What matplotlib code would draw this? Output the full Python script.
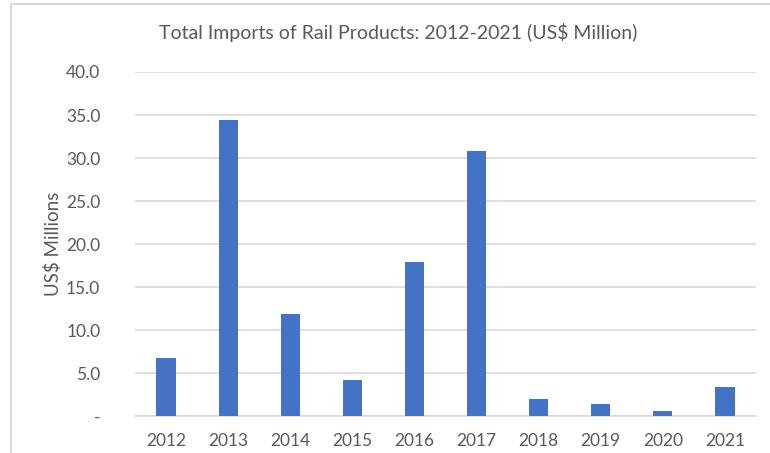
import matplotlib.pyplot as plt
from matplotlib.patches import Rectangle

years = ['2012', '2013', '2014', '2015', '2016', '2017', '2018', '2019', '2020', '2021']
imports = [6.8, 34.4, 11.9, 4.2, 17.9, 30.8, 2.0, 1.4, 0.6, 3.4]
y_ticks = [0, 5, 10, 15, 20, 25, 30, 35, 40]
y_tick_labels = ['-', '5.0', '10.0', '15.0', '20.0', '25.0', '30.0', '35.0', '40.0']

plt.rcParams['font.family'] = ['Lato', 'DejaVu Sans']
text_color = '#595959'
grid_color = '#d9d9d9'

fig = plt.figure(figsize=(7.7, 4.53), dpi=100)
ax = fig.add_axes([135/770, 1 - 416.3/453, (756 - 135)/770, (416.3 - 72)/453])

x = range(len(years))
ax.bar(x, imports, width=0.31, color='#4472c4', zorder=3)

ax.set_xlim(-0.5, len(years) - 0.5)
ax.set_ylim(0, 40)
ax.set_yticks(y_ticks)
ax.set_yticklabels(y_tick_labels)
ax.set_xticks(list(x))
ax.set_xticklabels(years)
ax.tick_params(axis='both', length=0, labelsize=12.5, colors=text_color)
ax.tick_params(axis='y', pad=25)
ax.tick_params(axis='x', pad=12)
ax.grid(axis='y', color=grid_color, linewidth=1.2, zorder=0)
for side in ['top', 'right', 'left']:
    ax.spines[side].set_visible(False)
ax.spines['bottom'].set_color(grid_color)
ax.spines['bottom'].set_linewidth(1.2)

ax.set_ylabel('US$ Millions', fontsize=13.5, color=text_color, labelpad=3)
fig.text(398/770, 1 - 33/453, 'Total Imports of Rail Products: 2012-2021 (US$ Million)',
         ha='center', va='center', fontsize=14, color=text_color)

# chart frame
fig.patches.append(Rectangle((11/770, -0.1), 1.2, 1 - 4/453 + 0.1, transform=fig.transFigure,
                             fill=False, edgecolor=grid_color, linewidth=1.5))

fig.savefig('out.png', dpi=100)
